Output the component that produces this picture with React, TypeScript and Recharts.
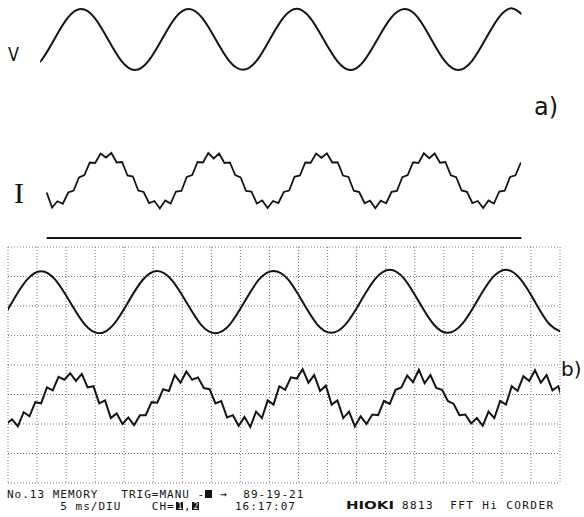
import React from 'react';
import { LineChart, Line, XAxis, YAxis, CartesianGrid, ReferenceLine } from 'recharts';

// a) upper plot: voltage and current, normalised (time in ms)
const TOP_V_START = -2.4;
const TOP_V_STEP = 2.5;
const topV = [
  -1, -0.71, 0, 0.71, 1, 0.71, 0, -0.71,
  -1, -0.7, 0.01, 0.72, 1, 0.7, -0.01, -0.71,
  -0.99, -0.71, 0, 0.71, 1.01, 0.71, 0, -0.7,
  -1, -0.7, 0.01, 0.71, 1, 0.72, 0, -0.71,
  -1, -0.71, 0, 0.72, 1.02, 0.71,
];

const TOP_I_START = 1.2;
const TOP_I_STEP = 1;
const topI = [
  -0.5, -1.1, -0.85, -0.95, -0.5, -0.42, 0.1, 0.2, 0.7, 0.68, 1.06, 0.9, 1.08, 0.7, 0.72, 0.18, 0.14, -0.42, -0.48, -0.92,
  -0.84, -1.14, -0.82, -0.94, -0.46, -0.44, 0.12, 0.2, 0.72, 0.7, 1.08, 0.86, 1.06, 0.68, 0.7, 0.2, 0.1, -0.44, -0.46, -0.94,
  -0.82, -1.12, -0.84, -0.92, -0.48, -0.42, 0.13, 0.18, 0.7, 0.69, 1.06, 0.89, 1.07, 0.7, 0.71, 0.18, 0.12, -0.43, -0.48, -0.93,
  -0.83, -1.13, -0.83, -0.93, -0.47, -0.44, 0.11, 0.2, 0.71, 0.68, 1.07, 0.87, 1.06, 0.69, 0.72, 0.19, 0.11, -0.42, -0.47, -0.92,
  -0.84, -1.12, -0.82, -0.94, -0.46, -0.43, 0.12, 0.19, 0.7,
];
const TOP_I_END = 89.3;
const topZero = -2.32;

// b) recorder screen, 5 ms/DIV, values in divisions
const BOT_V_START = -4.3;
const BOT_V_STEP = 2.5;
const botV = [
  5.08, 5.38, 6.13, 6.88, 7.18, 6.88, 6.13, 5.38,
  5.08, 5.38, 6.14, 6.89, 7.19, 6.88, 6.13, 5.37,
  5.08, 5.38, 6.14, 6.9, 7.19, 6.9, 6.14, 5.38,
  5.09, 5.4, 6.16, 6.92, 7.23, 6.92, 6.15, 5.39,
  5.09, 5.4, 6.16, 6.92, 7.23, 6.91, 6.14, 5.38,
  5.08,
];

const BOT_I_START = -0.3;
const BOT_I_STEP = 1;
const botI = [
  2.0,
  2.16, 1.92, 2.4, 2.26, 2.74, 2.7, 3.24, 3.14, 3.6, 3.5, 3.72, 3.46, 3.7, 3.24, 3.28, 2.7, 2.8, 2.2, 2.36, 2.0,
  2.22, 1.96, 2.3, 2.3, 2.74, 2.72, 3.18, 3.12, 3.66, 3.4, 3.78, 3.5, 3.58, 3.22, 3.18, 2.7, 2.78, 2.22, 2.3, 1.94,
  2.24, 1.9, 2.42, 2.2, 2.8, 2.66, 3.28, 3.16, 3.58, 3.54, 3.86, 3.4, 3.66, 3.12, 3.3, 2.66, 2.8, 2.2, 2.42, 1.92,
  2.26, 2.0, 2.32, 2.3, 2.78, 2.68, 3.16, 3.24, 3.64, 3.42, 3.84, 3.38, 3.66, 3.22, 3.16, 2.78, 2.68, 2.3, 2.32, 2.02,
  2.2, 1.94, 2.42, 2.2, 2.78, 2.66, 3.28, 3.12, 3.62, 3.46, 3.82, 3.4, 3.66, 3.14, 3.28, 2.7,
];

const timeTicks = [0, 5, 10, 15, 20, 25, 30, 35, 40, 45, 50, 55, 60, 65, 70, 75, 80, 85, 90, 95];
const divTicks = [0, 1, 2, 3, 4, 5, 6, 7, 8];

const toPoints = (start: number, step: number, values: number[]) =>
  values.map((v, i) => ({ t: start + i * step, v }));

const INK = '#141414';

export default function App() {
  const mono = { fontFamily: '"DejaVu Sans Mono", monospace', fontSize: 11, letterSpacing: 1, fill: INK, whiteSpace: 'pre' as const };
  const chip = { fontFamily: '"DejaVu Sans Mono", monospace', fontSize: 8, fill: '#fff' };
  return (
    <div style={{ position: 'absolute', left: 0, top: 0, width: 584, height: 517, background: '#fff', overflow: 'hidden' }}>
      <div style={{ position: 'absolute', left: 0, top: 0 }}>
        <LineChart width={584} height={245} margin={{ top: 0, right: 62.6, bottom: 0, left: 40.2 }}>
          <XAxis type="number" dataKey="t" domain={[0, 89.3]} hide allowDataOverflow />
          <YAxis yAxisId="v" domain={[-6.738, 1.295]} hide allowDataOverflow />
          <YAxis yAxisId="i" domain={[-2.6, 7.2]} hide allowDataOverflow />
          <Line yAxisId="v" data={toPoints(TOP_V_START, TOP_V_STEP, topV)} dataKey="v" type="natural"
            stroke={INK} strokeWidth={2} dot={false} isAnimationActive={false} />
          <Line yAxisId="i" data={toPoints(TOP_I_START, TOP_I_STEP, topI)} dataKey="v" type="linear"
            stroke={INK} strokeWidth={1.8} dot={false} isAnimationActive={false} />
          <ReferenceLine yAxisId="i" stroke={INK} strokeWidth={2}
            segment={[{ x: TOP_I_START, y: topZero }, { x: TOP_I_END, y: topZero }]} />
        </LineChart>
      </div>
      <div style={{ position: 'absolute', left: 0, top: 240 }}>
        <LineChart width={584} height={250} margin={{ top: 7, right: 24, bottom: 7, left: 8 }}>
          <CartesianGrid stroke="#777" strokeDasharray="1 2" />
          <XAxis type="number" dataKey="t" domain={[0, 95]} ticks={timeTicks} hide allowDataOverflow />
          <YAxis domain={[0, 8]} ticks={divTicks} hide allowDataOverflow />
          <Line data={toPoints(BOT_V_START, BOT_V_STEP, botV)} dataKey="v" type="natural"
            stroke={INK} strokeWidth={2} dot={false} isAnimationActive={false} />
          <Line data={toPoints(BOT_I_START, BOT_I_STEP, botI)} dataKey="v" type="linear"
            stroke={INK} strokeWidth={2} dot={false} isAnimationActive={false} />
        </LineChart>
      </div>
      <svg width={584} height={517} style={{ position: 'absolute', left: 0, top: 0, pointerEvents: 'none' }}>
        <text x={8} y={61} fontFamily='"DejaVu Sans", sans-serif' fontSize={19} fill={INK} textLength={11} lengthAdjust="spacingAndGlyphs">V</text>
        <text x={14} y={203} fontFamily='"Liberation Serif", serif' fontSize={30} fill={INK}>I</text>
        <text x={534} y={115} fontFamily='"DejaVu Sans", sans-serif' fontSize={24} fill={INK}>a)</text>
        <text x={561} y={376} fontFamily='"DejaVu Sans", sans-serif' fontSize={20} fill={INK}>b)</text>

        <text x={7} y={498} style={mono}>{'No.13 MEMORY   TRIG=MANU -  →  89-19-21'}</text>
        <rect x={205} y={490} width={7} height={8} fill={INK} />
        <text x={7} y={510} style={mono}>{'       5 ms/DIU    CH='}</text>
        <rect x={176} y={502} width={7} height={8} fill={INK} />
        <text x={177.5} y={509} style={chip}>1</text>
        <text x={184} y={510} style={mono}>,</text>
        <rect x={192} y={502} width={7} height={8} fill={INK} />
        <text x={193.5} y={509} style={chip}>2</text>
        <text x={235} y={510} style={mono}>{'16:17:07'}</text>

        <text x={346} y={509} fontFamily='"DejaVu Sans", sans-serif' fontWeight="bold" fontSize={11} fill={INK} textLength={48} lengthAdjust="spacingAndGlyphs">HIOKI</text>
        <text x={402} y={509} style={{ ...mono, letterSpacing: 1.4 }}>{'8813  FFT Hi CORDER'}</text>
      </svg>
    </div>
  );
}
